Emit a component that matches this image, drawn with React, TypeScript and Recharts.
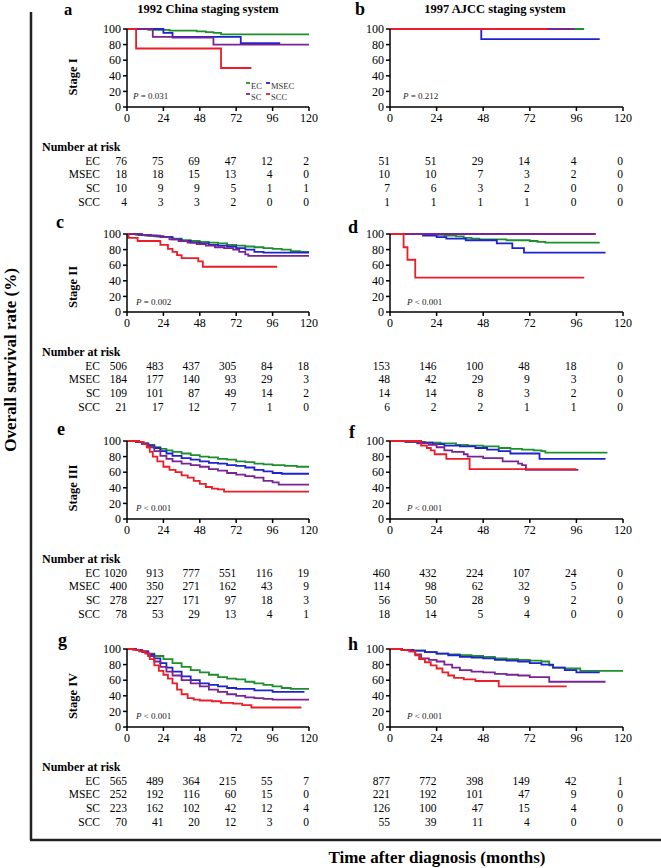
import { LineChart, Line, XAxis, YAxis } from "recharts";

type Pt = [number, number];

const groups = ["EC", "MSEC", "SC", "SCC"];
const colors = ["#1d8f2b", "#1e22cf", "#7b2394", "#ec1c28"];
const monthTicks = [0, 24, 48, 72, 96, 120];
const rateTicks = [0, 20, 40, 60, 80, 100];
const stageNames = ["Stage I", "Stage II", "Stage III", "Stage IV"];
const pLabels = ["= 0.031", "= 0.212", "= 0.002", "< 0.001", "< 0.001", "< 0.001", "< 0.001", "< 0.001"];

// curves: EC, MSEC, SC, SCC  (month, survival %)
const curvesA: Pt[][] = [
  [[0, 100], [14, 99], [28, 98], [46, 97], [52, 96], [57, 95], [62, 93], [120, 93]],
  [[0, 100], [24, 95], [30, 90], [75, 82], [101, 82]],
  [[0, 100], [17, 90], [30, 89], [57, 80], [120, 80]],
  [[0, 100], [6, 75], [62, 50], [82, 50]],
];
const curvesB: Pt[][] = [
  [[0, 100], [100, 100]],
  [[0, 100], [47, 87], [108, 87]],
  [[0, 100], [95, 100]],
  [[0, 100], [81, 100]],
];
const curvesC: Pt[][] = [
  [[0, 100], [6, 99], [12, 98], [18, 97], [24, 96], [30, 94], [36, 92], [42, 91], [48, 90], [54, 89], [60, 88], [66, 86], [72, 85], [78, 84], [84, 83], [90, 82], [96, 81], [102, 80], [108, 78], [114, 77], [120, 77]],
  [[0, 100], [8, 99], [14, 98], [20, 97], [24, 96], [30, 93], [36, 91], [42, 89], [48, 88], [54, 86], [60, 85], [66, 84], [72, 82], [78, 80], [84, 77], [90, 76], [120, 76]],
  [[0, 100], [10, 99], [16, 98], [22, 96], [28, 93], [34, 91], [40, 89], [46, 87], [52, 85], [58, 83], [64, 82], [70, 80], [74, 77], [78, 74], [80, 72], [120, 72]],
  [[0, 100], [1, 95], [7, 91], [22, 86], [27, 81], [30, 77], [33, 73], [36, 69], [47, 65], [50, 58], [99, 58]],
];
const curvesD: Pt[][] = [
  [[0, 100], [22, 99], [28, 98], [34, 97], [38, 95], [42, 94], [46, 93], [60, 92], [72, 91], [76, 90], [80, 89], [108, 89]],
  [[0, 100], [17, 98], [24, 96], [29, 94], [39, 92], [55, 88], [63, 82], [69, 76], [111, 76]],
  [[0, 100], [106, 100]],
  [[0, 100], [7, 83], [9, 67], [13, 44], [100, 44]],
];
const curvesE: Pt[][] = [
  [[0, 100], [6, 99], [10, 97], [14, 95], [18, 92], [22, 90], [26, 88], [30, 86], [36, 84], [42, 82], [48, 80], [54, 79], [60, 77], [66, 76], [72, 74], [78, 73], [84, 71], [90, 70], [96, 69], [104, 68], [112, 67], [120, 66]],
  [[0, 100], [6, 99], [10, 97], [14, 94], [18, 91], [22, 87], [26, 84], [30, 81], [36, 78], [42, 76], [48, 74], [54, 72], [60, 71], [66, 69], [72, 68], [78, 66], [84, 63], [90, 61], [96, 59], [102, 58], [120, 58]],
  [[0, 100], [6, 99], [10, 96], [14, 92], [18, 87], [22, 81], [26, 77], [30, 74], [36, 71], [42, 69], [48, 67], [54, 64], [60, 62], [66, 59], [72, 57], [78, 55], [84, 53], [90, 49], [96, 47], [100, 44], [120, 44]],
  [[0, 100], [8, 99], [11, 96], [13, 92], [15, 86], [17, 80], [20, 74], [24, 67], [28, 63], [32, 60], [36, 56], [40, 53], [44, 49], [48, 45], [52, 41], [56, 39], [60, 38], [64, 35], [120, 35]],
];
const curvesF: Pt[][] = [
  [[0, 100], [10, 99], [18, 98], [26, 97], [34, 95], [40, 94], [48, 93], [56, 91], [62, 90], [68, 89], [74, 88], [78, 87], [80, 85], [112, 85]],
  [[0, 100], [8, 99], [16, 98], [22, 96], [28, 94], [36, 93], [44, 91], [50, 89], [56, 87], [62, 84], [77, 77], [111, 77]],
  [[0, 100], [8, 99], [14, 97], [20, 95], [24, 92], [28, 88], [32, 86], [38, 83], [40, 80], [48, 78], [58, 74], [66, 71], [68, 69], [70, 63], [97, 63]],
  [[0, 100], [16, 94], [19, 91], [21, 88], [23, 83], [29, 77], [41, 64], [96, 64]],
];
const curvesG: Pt[][] = [
  [[0, 100], [6, 99], [10, 97], [14, 94], [18, 91], [24, 87], [30, 82], [36, 77], [42, 73], [48, 70], [54, 67], [60, 64], [66, 62], [72, 61], [78, 58], [84, 56], [90, 54], [96, 52], [102, 50], [108, 49], [120, 49]],
  [[0, 100], [6, 99], [10, 97], [14, 93], [18, 88], [22, 82], [26, 76], [30, 71], [36, 65], [42, 60], [48, 56], [54, 54], [60, 52], [66, 50], [72, 49], [84, 47], [96, 45], [117, 45]],
  [[0, 100], [6, 99], [10, 96], [14, 91], [18, 84], [22, 77], [26, 71], [30, 66], [36, 60], [42, 56], [48, 52], [54, 48], [60, 45], [66, 42], [72, 40], [78, 38], [84, 37], [90, 36], [96, 35], [120, 35]],
  [[0, 100], [4, 99], [8, 97], [12, 94], [15, 87], [18, 79], [21, 72], [24, 67], [27, 62], [30, 56], [33, 48], [36, 42], [40, 37], [44, 35], [48, 34], [56, 33], [62, 31], [70, 30], [76, 28], [82, 25], [115, 25]],
];
const curvesH: Pt[][] = [
  [[0, 100], [6, 99], [12, 98], [18, 96], [24, 94], [30, 93], [36, 92], [42, 91], [48, 90], [54, 88], [60, 87], [66, 86], [72, 85], [78, 84], [82, 79], [84, 76], [90, 75], [98, 72], [120, 72]],
  [[0, 100], [6, 99], [12, 98], [18, 96], [24, 94], [30, 92], [36, 90], [42, 89], [48, 88], [54, 86], [60, 85], [66, 84], [72, 82], [78, 80], [84, 76], [90, 73], [96, 70], [108, 70]],
  [[0, 100], [6, 99], [10, 97], [13, 93], [16, 88], [20, 86], [24, 84], [28, 80], [32, 76], [36, 73], [42, 71], [48, 70], [54, 68], [60, 67], [66, 66], [72, 64], [82, 58], [111, 58]],
  [[0, 100], [6, 99], [10, 97], [13, 92], [15, 87], [18, 83], [21, 79], [24, 75], [27, 70], [30, 66], [33, 63], [38, 61], [44, 59], [56, 52], [91, 52]],
];

// number at risk at 0, 24, 48, 72, 96, 120 months (EC, MSEC, SC, SCC)
const riskA = [[76, 75, 69, 47, 12, 2], [18, 18, 15, 13, 4, 0], [10, 9, 9, 5, 1, 1], [4, 3, 3, 2, 0, 0]];
const riskB = [[51, 51, 29, 14, 4, 0], [10, 10, 7, 3, 2, 0], [7, 6, 3, 2, 0, 0], [1, 1, 1, 1, 0, 0]];
const riskC = [[506, 483, 437, 305, 84, 18], [184, 177, 140, 93, 29, 3], [109, 101, 87, 49, 14, 2], [21, 17, 12, 7, 1, 0]];
const riskD = [[153, 146, 100, 48, 18, 0], [48, 42, 29, 9, 3, 0], [14, 14, 8, 3, 2, 0], [6, 2, 2, 1, 1, 0]];
const riskE = [[1020, 913, 777, 551, 116, 19], [400, 350, 271, 162, 43, 9], [278, 227, 171, 97, 18, 3], [78, 53, 29, 13, 4, 1]];
const riskF = [[460, 432, 224, 107, 24, 0], [114, 98, 62, 32, 5, 0], [56, 50, 28, 9, 2, 0], [18, 14, 5, 4, 0, 0]];
const riskG = [[565, 489, 364, 215, 55, 7], [252, 192, 116, 60, 15, 0], [223, 162, 102, 42, 12, 4], [70, 41, 20, 12, 3, 0]];
const riskH = [[877, 772, 398, 149, 42, 1], [221, 192, 101, 47, 9, 0], [126, 100, 47, 15, 4, 0], [55, 39, 11, 4, 0, 0]];

const FONT = "'Liberation Serif', 'Times New Roman', serif";
const PLOT_H = 78;
const TOP_M = 10;
const rowTops = [29, 234, 441, 649];

type PanelProps = { curves: Pt[][]; risk: number[][]; right: boolean; top: number };

function KMPanel({ curves, risk, right, top }: PanelProps) {
  const renderTick = (props: any) => {
    const { x, y, payload } = props;
    const idx = monthTicks.indexOf(payload.value);
    return (
      <g>
        <text x={x} y={y + 5} dy="0.35em" textAnchor="middle" fontSize={12} fill="#000">
          {payload.value}
        </text>
        {risk.map((row, i) => (
          <text key={i} x={x} y={y + 47.5 + 13.7 * i} dy="0.35em" textAnchor="end" fontSize={11.5} fill="#000">
            {row[idx]}
          </text>
        ))}
        {!right && idx === 0 &&
          groups.map((g, i) => (
            <text key={g} x={x - 27} y={y + 47.5 + 13.7 * i} dy="0.35em" textAnchor="end" fontSize={11.5} fill="#000">
              {g}
            </text>
          ))}
      </g>
    );
  };
  const w = right ? 331 : 330;
  const margin = right
    ? { top: TOP_M, right: 38, left: 30, bottom: 0 }
    : { top: TOP_M, right: 21, left: 97, bottom: 0 };
  return (
    <div style={{ position: "absolute", left: right ? 330 : 0, top: top - TOP_M }}>
      <LineChart width={w} height={TOP_M + PLOT_H + 100} margin={margin}>
        <XAxis
          dataKey="t"
          type="number"
          domain={[0, 120]}
          ticks={monthTicks}
          interval={0}
          allowDataOverflow
          height={100}
          tickSize={4}
          tickMargin={2}
          axisLine={{ stroke: "#000", strokeWidth: 1.5 }}
          tickLine={{ stroke: "#000", strokeWidth: 1.5 }}
          tick={renderTick}
        />
        <YAxis
          type="number"
          domain={[0, 100]}
          ticks={rateTicks}
          interval={0}
          width={30}
          tickSize={4}
          tickMargin={2}
          axisLine={{ stroke: "#000", strokeWidth: 1.5 }}
          tickLine={{ stroke: "#000", strokeWidth: 1.5 }}
          tick={{ fontSize: 12, fill: "#000" }}
        />
        {curves.map((c, i) => (
          <Line
            key={groups[i]}
            data={c.map(([t, s]) => ({ t, s }))}
            dataKey="s"
            type="stepAfter"
            stroke={colors[i]}
            strokeWidth={1.8}
            dot={false}
            isAnimationActive={false}
          />
        ))}
      </LineChart>
    </div>
  );
}

export default function App() {
  const letters = [
    ["a", 64, 14.5], ["b", 355, 15], ["c", 56, 228], ["d", 348, 233],
    ["e", 57, 435], ["f", 349, 438], ["g", 58, 646], ["h", 348, 650],
  ] as const;
  const pPos = [[133, 96], [403, 96], [136, 302], [407, 302], [136, 508], [407, 508], [136, 716], [407, 716]];
  const stageY = [77, 287, 488, 696];
  const legendPos = [[250, 86], [270, 86], [250, 97], [270, 97]];
  const panels = [
    [curvesA, riskA], [curvesB, riskB], [curvesC, riskC], [curvesD, riskD],
    [curvesE, riskE], [curvesF, riskF], [curvesG, riskG], [curvesH, riskH],
  ] as const;
  return (
    <div style={{ position: "absolute", left: 0, top: 0, width: 661, height: 868, background: "#fff", fontFamily: FONT }}>
      {panels.map(([c, r], i) => (
        <KMPanel key={i} curves={c as Pt[][]} risk={r as number[][]} right={i % 2 === 1} top={rowTops[Math.floor(i / 2)]} />
      ))}
      <svg width={661} height={868} style={{ position: "absolute", left: 0, top: 0, pointerEvents: "none" }} fontFamily={FONT}>
        <line x1={31} y1={12} x2={31} y2={840} stroke="#222" strokeWidth={2.5} />
        <line x1={30} y1={840} x2={661} y2={840} stroke="#222" strokeWidth={2.5} />
        <text x={10} y={360} transform="rotate(-90 10 360)" textAnchor="middle" dominantBaseline="central" fontSize={17} fontWeight="bold">
          Overall survival rate (%)
        </text>
        <text x={437} y={857} textAnchor="middle" dominantBaseline="central" fontSize={17} fontWeight="bold">
          Time after diagnosis (months)
        </text>
        <text x={208} y={13} textAnchor="middle" fontSize={12.5} fontWeight="bold">1992 China staging system</text>
        <text x={495} y={13} textAnchor="middle" fontSize={12.5} fontWeight="bold">1997 AJCC staging system</text>
        {letters.map(([l, x, y]) => (
          <text key={l} x={x} y={y} fontSize={l === "a" ? 16.5 : 18} fontWeight="bold">{l}</text>
        ))}
        {stageNames.map((s, i) => (
          <text key={s} x={73} y={stageY[i]} transform={`rotate(-90 73 ${stageY[i]})`} textAnchor="middle" dominantBaseline="central" fontSize={12.5} fontWeight="bold">
            {s}
          </text>
        ))}
        {pPos.map(([x, y], i) => (
          <text key={i} x={x} y={y} dominantBaseline="central" fontSize={9} fill="#222">
            <tspan fontStyle="italic">P</tspan> {pLabels[i]}
          </text>
        ))}
        {rowTops.map((t) => (
          <text key={t} x={42} y={t + PLOT_H + 39.5} dominantBaseline="central" fontSize={12} fontWeight="bold">
            Number at risk
          </text>
        ))}
        {groups.map((g, i) => {
          const [lx, ly] = legendPos[i];
          return (
            <g key={g}>
              <line x1={lx - 4} y1={ly - 3} x2={lx} y2={ly - 3} stroke={colors[i]} strokeWidth={1.8} />
              <text x={lx + 1} y={ly} dominantBaseline="central" fontSize={8.5} fill="#333">{g}</text>
            </g>
          );
        })}
      </svg>
    </div>
  );
}
